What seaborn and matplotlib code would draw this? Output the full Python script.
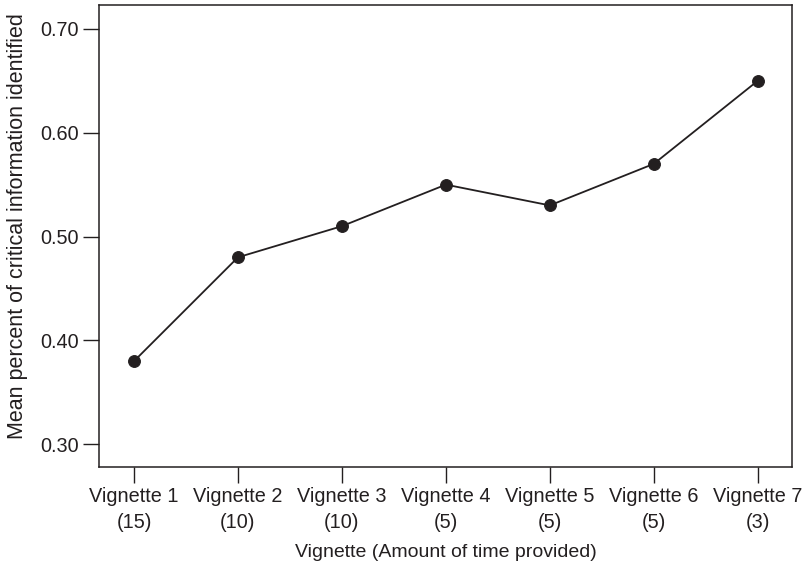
import matplotlib
matplotlib.use("Agg")
import matplotlib.pyplot as plt
import seaborn as sns
import pandas as pd

# Mean share of critical information identified per vignette
vignettes = ["Vignette 1", "Vignette 2", "Vignette 3", "Vignette 4",
             "Vignette 5", "Vignette 6", "Vignette 7"]
minutes = ["15", "10", "10", "5", "5", "5", "3"]
mean_identified = [0.38, 0.48, 0.51, 0.55, 0.53, 0.57, 0.65]

y_ticks = [0.30, 0.40, 0.50, 0.60, 0.70]
y_tick_labels = ["0.30", "0.40", "0.50", "0.60", "0.70"]

tick_labels = [f"{v}\n({m})" for v, m in zip(vignettes, minutes)]
df = pd.DataFrame({"pos": range(len(vignettes)), "mean": mean_identified})

sns.set_theme(style="ticks")
plt.rcParams["font.family"] = ["Liberation Sans", "DejaVu Sans"]

ink = "#231f20"
fig = plt.figure(figsize=(8.12, 5.71), dpi=100)
ax = fig.add_axes([0.1219, 0.1821, 0.8535, 0.8091])

sns.lineplot(data=df, x="pos", y="mean", ax=ax, color=ink, linewidth=1.3,
             marker="o", markersize=8.5, markeredgecolor=ink,
             markerfacecolor=ink)

ax.set_xlim(-0.337, 6.33)
ax.set_ylim(0.278, 0.723)
ax.set_xticks(range(len(vignettes)))
ax.set_xticklabels(tick_labels, linespacing=1.45)
ax.set_yticks(y_ticks)
ax.set_yticklabels(y_tick_labels)

for side in ["left", "right", "top", "bottom"]:
    ax.spines[side].set_visible(True)
    ax.spines[side].set_color(ink)
    ax.spines[side].set_linewidth(1.1)

ax.tick_params(axis="both", direction="out", length=11.5, width=1.0,
               color=ink, labelcolor=ink, labelsize=14.3, pad=3)

ax.set_xlabel("Vignette (Amount of time provided)", fontsize=14,
              color=ink, labelpad=8.5)
ax.set_ylabel("Mean percent of critical information identified",
              fontsize=15.5, color=ink, labelpad=9)
ax.yaxis.label.set_y(0.522)

fig.savefig("out.png", dpi=100)
